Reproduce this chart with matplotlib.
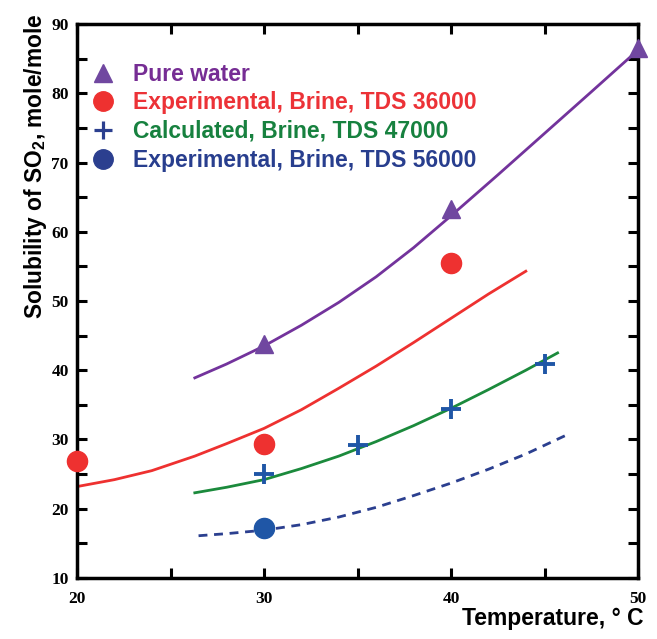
import matplotlib
matplotlib.use("Agg")
import matplotlib.pyplot as plt
from matplotlib.lines import Line2D
from matplotlib.ticker import MultipleLocator, FuncFormatter

plt.rcParams["mathtext.fontset"] = "custom"
plt.rcParams["mathtext.rm"] = "Liberation Sans:bold"
plt.rcParams["mathtext.default"] = "rm"

# Measured solubility points
pure_T = [30, 40, 50]
pure_S = [43.8, 63.3, 86.6]

brine36_T = [20, 30, 40]
brine36_S = [26.9, 29.4, 55.5]

calc47_T = [30, 35, 40, 45]
calc47_S = [25.0, 29.2, 34.4, 40.9]

brine56_T = [30]
brine56_S = [17.2]

# Fitted curves
pure_fit_T = [26.3, 28, 30, 32, 34, 36, 38, 40, 42.5, 45, 47.5, 49.9]
pure_fit_S = [38.9, 40.9, 43.5, 46.5, 49.8, 53.5, 57.7, 62.3, 68.2, 74.2, 80.2, 86.0]

b36_fit_T = [20, 22, 24, 26.3, 28, 30, 32, 34, 36, 38, 40, 42, 44]
b36_fit_S = [23.2, 24.2, 25.5, 27.6, 29.4, 31.6, 34.3, 37.4, 40.6, 44.0, 47.5, 51.0, 54.3]

b47_fit_T = [26.3, 28, 30, 32, 34, 36, 38, 40, 42, 44, 45.7]
b47_fit_S = [22.3, 23.1, 24.2, 25.8, 27.6, 29.7, 32.0, 34.5, 37.2, 40.0, 42.5]

b56_fit_T = [26.5, 28, 30, 32, 34, 36, 38, 40, 42, 44, 46.3]
b56_fit_S = [16.1, 16.4, 16.9, 17.7, 18.8, 20.2, 21.9, 23.7, 25.7, 27.9, 30.8]

labels = ["Pure water", "Experimental, Brine, TDS 36000",
          "Calculated, Brine, TDS 47000", "Experimental, Brine, TDS 56000"]

purple = "#73339c"
purple_m = "#7047a0"
red = "#ee3130"
green = "#1b8a3c"
blue_m = "#1f56a6"
navy = "#2b3f8f"
legend_colors = ["#762d94", "#ec3237", "#17813f", "#283e8e"]

fig = plt.figure(figsize=(6.57, 6.39), dpi=100)
ax = fig.add_axes([0.1172, 0.0955, 0.8539, 0.8669])

ax.plot(pure_fit_T, pure_fit_S, color=purple, lw=2.0, zorder=2)
ax.plot(b36_fit_T, b36_fit_S, color=red, lw=2.0, zorder=2)
ax.plot(b47_fit_T, b47_fit_S, color=green, lw=2.0, zorder=2)
ax.plot(b56_fit_T, b56_fit_S, color=navy, lw=2.0, ls=(0, (3.2, 2.4)), zorder=2)

ax.plot(pure_T, pure_S, ls="none", marker="^", ms=13.5, color=purple_m,
        mec=purple_m, zorder=3, clip_on=False)
ax.plot(brine36_T, brine36_S, ls="none", marker="o", ms=14.5, color=red,
        mec=red, zorder=3, clip_on=False)
ax.plot(calc47_T, calc47_S, ls="none", marker="+", ms=14.5, mew=2.8,
        color=blue_m, zorder=3, clip_on=False)
ax.plot(brine56_T, brine56_S, ls="none", marker="o", ms=14.5, color=blue_m,
        mec=blue_m, zorder=3)

handles = [
    Line2D([], [], ls="none", marker="^", ms=13.5, color=purple_m),
    Line2D([], [], ls="none", marker="o", ms=14.0, color=red),
    Line2D([], [], ls="none", marker="+", ms=12.5, mew=2.3, color=navy),
    Line2D([], [], ls="none", marker="o", ms=14.0, color=navy),
]
leg = ax.legend(handles, labels, loc="upper left",
                bbox_to_anchor=(0.0264, 0.9305), frameon=False,
                prop={"family": "Liberation Sans", "weight": "bold", "size": 16.5},
                handlelength=1.0, handletextpad=0.81, labelspacing=0.25,
                borderaxespad=0.0, borderpad=0.0)
for txt, c in zip(leg.get_texts(), legend_colors):
    txt.set_color(c)

ax.set_xlim(20, 50)
ax.set_ylim(10, 90)
ax.xaxis.set_major_locator(MultipleLocator(5))
ax.yaxis.set_major_locator(MultipleLocator(5))
fmt = FuncFormatter(lambda v, p: f"{int(round(v))}" if int(round(v)) % 10 == 0 else "")
ax.xaxis.set_major_formatter(fmt)
ax.yaxis.set_major_formatter(fmt)
ax.tick_params(direction="in", length=7, width=2.2, top=True, right=True,
               labelsize=12.5, pad=6)
ax.tick_params(axis="x", pad=9.5)
for lab in ax.get_xticklabels() + ax.get_yticklabels():
    lab.set_fontfamily("Liberation Serif")
    lab.set_fontweight("bold")
for s in ax.spines.values():
    s.set_linewidth(2.5)

fig.text(0.0533, 0.740, "Solubility of SO$_2$, mole/mole", rotation=90,
         ha="center", va="center", fontfamily="Liberation Sans",
         fontweight="bold", fontsize=16.4)
fig.text(0.9787, 0.0219, "Temperature, \u00b0 C", ha="right", va="baseline",
         fontfamily="Liberation Sans", fontweight="bold", fontsize=16.5)

fig.savefig("out.png", dpi=100)
